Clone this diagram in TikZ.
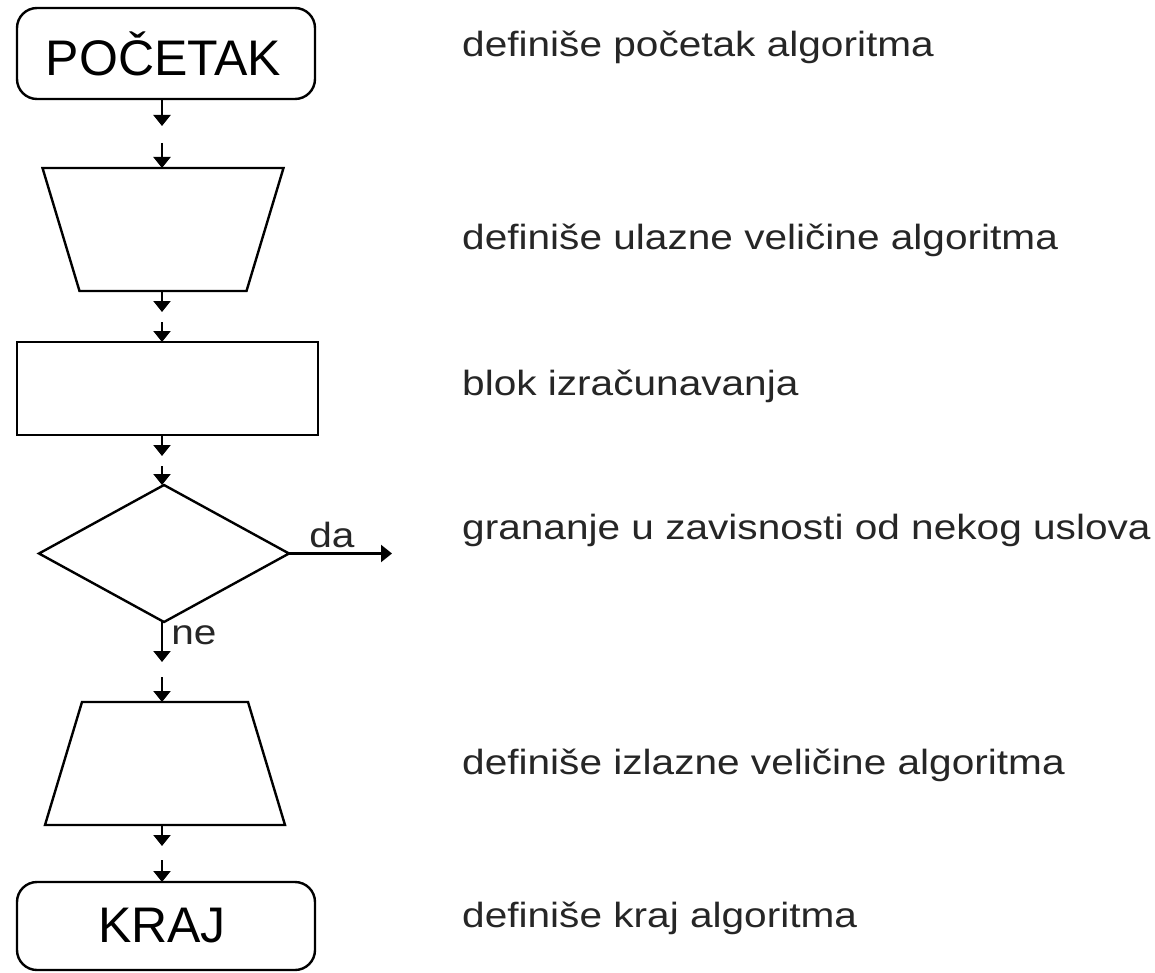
\documentclass[tikz,border=0pt]{standalone}
\usepackage{fontspec}
\setmainfont{Liberation Sans}
\newfontfamily\widesans[FakeStretch=1.16]{Liberation Sans}
\usetikzlibrary{shapes.geometric,arrows.meta}

\tikzset{
  shapeline/.style={draw=black, line width=2.4pt, inner sep=0pt, outer sep=0pt},
  terminal/.style={shapeline, rectangle, rounded corners=20pt,
    font=\fontsize{50}{60}\selectfont},
  process/.style={shapeline, rectangle},
  iobox/.style={rectangle, inner sep=0pt, outer sep=0pt,
    minimum height=123pt, minimum width=240pt},
  ioline/.style={line width=2.4pt, line join=miter},
  decision/.style={shapeline, diamond, minimum width=250pt, minimum height=137pt},
  flow/.style={line width=2.2pt, -{Triangle[width=17pt,length=11pt]}},
  note/.style={anchor=base west, inner sep=0pt, text=black!85,
    font=\widesans\fontsize{35}{42}\selectfont},
  branch/.style={anchor=base, inner sep=0pt, text=black!85,
    font=\widesans\fontsize{35}{42}\selectfont}
}

\begin{document}
\begin{tikzpicture}[x=1pt,y=-1pt]
  \fill[white] (0,0) rectangle (1155,973);
  \useasboundingbox (0,0) rectangle (1155,973);

  % flowchart symbols
  \node[terminal, minimum width=298pt, minimum height=91pt] (start) at (166,53.5) {\hspace*{-5pt}POČETAK};

  % input: trapezium, wide side on top
  \node[iobox, minimum width=241pt] (input) at (163,229.5) {};
  \draw[ioline] (input.north west) -- (input.north east)
    -- ([xshift=-37pt]input.south east) -- ([xshift=37pt]input.south west) -- cycle;

  \node[process, minimum width=301pt, minimum height=93pt] (calc) at (167.5,388.5) {};
  \node[decision] (cond) at (164,553.5) {};

  % output: trapezium, wide side at the bottom
  \node[iobox] (output) at (165,763.5) {};
  \draw[ioline] ([xshift=37pt]output.north west) -- ([xshift=-37pt]output.north east)
    -- (output.south east) -- (output.south west) -- cycle;

  \node[terminal, minimum width=298pt, minimum height=88pt] (stop) at (166,926) {\hspace*{-8pt}KRAJ};

  % ends of the split connectors
  \coordinate (c1a) at (162,126); \coordinate (c1b) at (162,143);
  \coordinate (c2a) at (162,312); \coordinate (c2b) at (162,322);
  \coordinate (c3a) at (162,456); \coordinate (c3b) at (162,466);
  \coordinate (c4a) at (162,662); \coordinate (c4b) at (162,677);
  \coordinate (c5a) at (162,846); \coordinate (c5b) at (162,860);
  \coordinate (yes) at (392,553.5);

  % connectors
  \draw[flow] (c1a |- start.south) -- (c1a);
  \draw[flow] (c1b) -- (c1b |- input.north);
  \draw[flow] (c2a |- input.south) -- (c2a);
  \draw[flow] (c2b) -- (c2b |- calc.north);
  \draw[flow] (c3a |- calc.south) -- (c3a);
  \draw[flow] (c3b) -- (c3b |- cond.north);
  \draw[flow] (c4a |- cond.south) -- (c4a);
  \draw[flow] (c4b) -- (c4b |- output.north);
  \draw[flow] (c5a |- output.south) -- (c5a);
  \draw[flow] (c5b) -- (c5b |- stop.north);
  \draw[flow] (cond.east) -- (yes);

  % branch labels
  \node[branch] (da) at (332,547) {da};
  \node[branch] (ne) at (194,644) {ne};

  % descriptions
  \node[note] (n1) at (462,57) {definiše početak algoritma};
  \node[note] (n2) at (462,250) {definiše ulazne veličine algoritma};
  \node[note] (n3) at (462,395) {blok izračunavanja};
  \node[note] (n4) at (462,539) {grananje u zavisnosti od nekog uslova};
  \node[note] (n5) at (462,774) {definiše izlazne veličine algoritma};
  \node[note] (n6) at (462,927) {definiše kraj algoritma};
\end{tikzpicture}
\end{document}
